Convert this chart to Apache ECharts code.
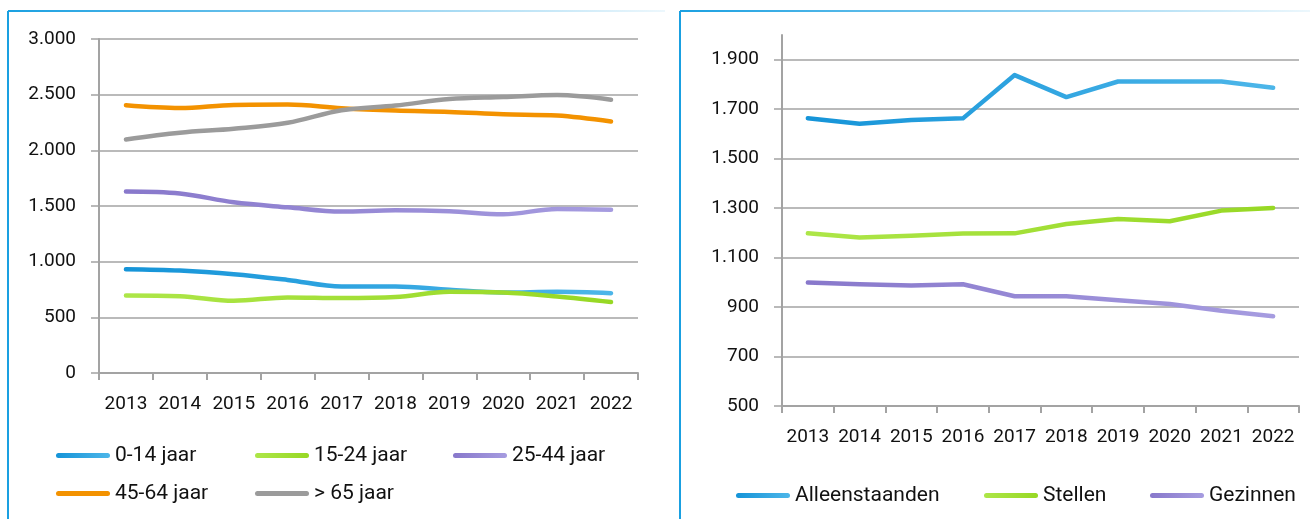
<!DOCTYPE html>
<html>
<head>
<meta charset="utf-8">
<script src="https://cdn.jsdelivr.net/npm/echarts@6/dist/echarts.min.js"></script>
<style>html,body{margin:0;padding:0;background:#fff}#c{width:1310px;height:519px}</style>
</head>
<body>
<div id="c"></div>
<script>
const years = ['2013','2014','2015','2016','2017','2018','2019','2020','2021','2022'];
const ageNames = ['0-14 jaar','15-24 jaar','25-44 jaar','45-64 jaar','> 65 jaar'];
const age0_14  = [932, 920, 887, 836, 777, 777, 747, 723, 729, 717];
const age15_24 = [697, 690, 649, 679, 673, 682, 729, 723, 687, 637];
const age25_44 = [1631, 1613, 1533, 1488, 1450, 1461, 1452, 1426, 1473, 1467];
const age45_64 = [2405, 2381, 2408, 2411, 2378, 2357, 2345, 2324, 2312, 2259];
const age65    = [2098, 2158, 2194, 2247, 2360, 2402, 2461, 2479, 2497, 2455];
const hhNames = ['Alleenstaanden','Stellen','Gezinnen'];
const alleen  = [1663, 1641, 1656, 1663, 1838, 1749, 1812, 1812, 1812, 1787];
const stellen = [1198, 1181, 1188, 1197, 1198, 1236, 1256, 1247, 1290, 1301];
const gezin   = [999, 992, 987, 992, 944, 944, 928, 912, 885, 863];
const leftTicks = {min: 0, max: 3000, interval: 500};
const rightTicks = {min: 500, max: 2000, interval: 200};

const FONT = 'Roboto, "Liberation Sans", sans-serif';
const fmt = v => String(v).replace(/\B(?=(\d{3})+(?!\d))/g, '.');
const grad = (a, b) => new echarts.graphic.LinearGradient(0, 0, 1, 0, [{offset: 0, color: a}, {offset: 1, color: b}]);
const C = {
  blue: () => grad('#1594d8', '#4db6e9'),
  green: () => grad('#ade648', '#97d824'),
  purple: () => grad('#8878cb', '#a69ce0'),
  orange: () => '#f39200',
  grey: () => '#9b9b9b'
};
const gridGrey = '#a3a3a3';

function xAxis(gi) {
  return {
    type: 'category', gridIndex: gi, data: years, boundaryGap: true,
    axisLine: {lineStyle: {color: gridGrey, width: 2}},
    axisTick: {show: true, length: 7, interval: 0, lineStyle: {color: gridGrey, width: 2}},
    axisLabel: {margin: 22, fontFamily: FONT, fontSize: 19, color: '#111', interval: 0}
  };
}
function yAxis(gi, t) {
  return {
    type: 'value', gridIndex: gi, min: t.min, max: t.max, interval: t.interval,
    axisLine: {show: true, lineStyle: {color: gridGrey, width: 2}},
    axisTick: {show: true, length: 8, lineStyle: {color: gridGrey, width: 1.5}},
    splitLine: {show: true, showMaxLine: gi === 0, lineStyle: {color: gridGrey, width: 1.5}},
    axisLabel: {margin: 23, fontFamily: FONT, fontSize: 19, color: '#111', formatter: fmt, showMaxLabel: gi === 0}
  };
}
function line(name, data, color, gi, smooth) {
  return {
    type: 'line', name: name, data: data, xAxisIndex: gi, yAxisIndex: gi,
    smooth: smooth, symbol: 'none', itemStyle: {color: color()},
    lineStyle: {width: 4.5, color: color(), cap: 'round', join: 'round'}
  };
}
const pill = 'path://M5,0H103A5,5 0 0 1 103,10H5A5,5 0 0 1 5,0Z';
function legend(name, left, top) {
  return {
    data: [name], left: left, top: top, orient: 'horizontal', icon: pill,
    itemWidth: 54, itemHeight: 5, padding: 0, selectedMode: false,
    textStyle: {fontFamily: FONT, fontSize: 21, color: '#111'}
  };
}

const ageColors = [C.blue, C.green, C.purple, C.orange, C.grey];
const ageData = [age0_14, age15_24, age25_44, age45_64, age65];
const hhColors = [C.blue, C.green, C.purple];
const hhData = [alleen, stellen, gezin];

const series = [];
ageNames.forEach((n, i) => series.push(line(n, ageData[i], ageColors[i], 0, 0.35)));
hhNames.forEach((n, i) => series.push(line(n, hhData[i], hhColors[i], 1, false)));

const legends = [
  legend(ageNames[0], 56, 445), legend(ageNames[1], 255, 445), legend(ageNames[2], 453, 445),
  legend(ageNames[3], 56, 483), legend(ageNames[4], 255, 483),
  legend(hhNames[0], 736, 485), legend(hhNames[1], 984, 485), legend(hhNames[2], 1150, 485)
];

const frameBlue = '#1aa0e1';
const graphic = [
  {type: 'line', shape: {x1: 8, y1: 11, x2: 8, y2: 519}, style: {stroke: frameBlue, lineWidth: 2}},
  {type: 'line', shape: {x1: 8, y1: 11, x2: 665, y2: 11}, style: {stroke: new echarts.graphic.LinearGradient(0, 0, 1, 0, [{offset: 0, color: frameBlue}, {offset: 1, color: 'rgba(26,160,225,0.08)'}]), lineWidth: 2}},
  {type: 'line', shape: {x1: 680, y1: 11, x2: 680, y2: 519}, style: {stroke: frameBlue, lineWidth: 2}},
  {type: 'line', shape: {x1: 680, y1: 11, x2: 1310, y2: 11}, style: {stroke: new echarts.graphic.LinearGradient(0, 0, 1, 0, [{offset: 0, color: frameBlue}, {offset: 1, color: 'rgba(26,160,225,0.08)'}]), lineWidth: 2}}
];

const chart = echarts.init(document.getElementById('c'), null, {renderer: 'canvas'});
chart.setOption({
  animation: false,
  backgroundColor: '#fff',
  grid: [
    {left: 99, top: 39, width: 539, height: 334},
    {left: 782, top: 35, width: 517, height: 371}
  ],
  xAxis: [xAxis(0), xAxis(1)],
  yAxis: [yAxis(0, leftTicks), yAxis(1, rightTicks)],
  legend: legends,
  series: series,
  graphic: graphic
});
</script>
</body>
</html>
